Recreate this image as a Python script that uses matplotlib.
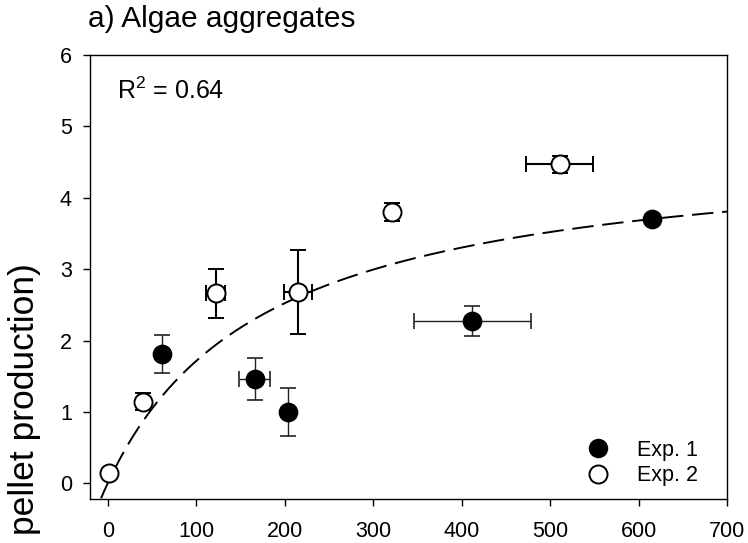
import numpy as np
import matplotlib
matplotlib.use("Agg")
import matplotlib.pyplot as plt
from matplotlib.lines import Line2D

plt.rcParams['font.family'] = ['Liberation Sans', 'DejaVu Sans']
plt.rcParams['mathtext.default'] = 'regular'

# Exp. 1 (filled circles)
exp1_x = [61, 166, 204, 412, 615]
exp1_y = [1.81, 1.46, 1.00, 2.28, 3.70]
exp1_xerr = [0, 18, 0, 66, 0]
exp1_yerr = [0.27, 0.30, 0.34, 0.21, 0]

# Exp. 2 (open circles)
exp2_x = [1, 40, 122, 215, 321, 511]
exp2_y = [0.14, 1.14, 2.66, 2.68, 3.80, 4.47]
exp2_xerr = [0, 0, 11, 16, 0, 38]
exp2_yerr = [0, 0.12, 0.34, 0.59, 0.13, 0.12]

# saturating fit y = a*x/(b+x), coefficients
fit_a = 4.78
fit_b = 179
r2_text = "R$^2$ = 0.64"

fig = plt.figure(figsize=(7.48, 5.43), dpi=100)
ax = fig.add_axes([90/748, 44/543, 637/748, 444/543])

xx = np.linspace(-20, 700, 400)
ax.plot(xx, fit_a*xx/(fit_b+xx), color='black', lw=1.4, dashes=(11, 4.5), zorder=1)

ax.errorbar(exp1_x, exp1_y, xerr=exp1_xerr, yerr=exp1_yerr, fmt='o', ms=13,
            mfc='black', mec='black', mew=1.2, ecolor='#222222', elinewidth=1,
            capsize=5.5, capthick=1, zorder=3)
ax.errorbar(exp2_x, exp2_y, xerr=exp2_xerr, yerr=exp2_yerr, fmt='o', ms=13,
            mfc='white', mec='black', mew=1.4, ecolor='black', elinewidth=1.5,
            capsize=5.5, capthick=1.5, zorder=3)

ax.set_xlim(-20, 700)
ax.set_ylim(-0.22, 6)
ax.set_xticks(range(0, 701, 100))
ax.set_yticks(range(0, 7))
ax.tick_params(direction='out', length=5, width=1, labelsize=15.5, top=False, right=False)
ax.tick_params(axis='x', pad=11)
ax.tick_params(axis='y', pad=8)
for s in ax.spines.values():
    s.set_linewidth(1)

ax.text(10, 5.39, r2_text, fontsize=18, va='baseline', ha='left')

handles = [Line2D([], [], ls='none', marker='o', ms=13, mfc='black', mec='black'),
           Line2D([], [], ls='none', marker='o', ms=13, mfc='white', mec='black', mew=1.4)]
ax.legend(handles, ['Exp. 1', 'Exp. 2'], loc='upper left', frameon=False,
          bbox_to_anchor=(570/748, (543-429)/543), bbox_transform=fig.transFigure,
          borderpad=0, fontsize=15.5, handlelength=1.6, handletextpad=1.0,
          labelspacing=0.2, numpoints=1)

fig.text(88/748, (543-27)/543, "a) Algae aggregates", fontsize=21.5, ha='left', va='baseline')
fig.text(25/748, (543-263)/543, "pellet production)", fontsize=25.5, rotation=90,
         ha='center', va='top')

fig.savefig("out.png", dpi=100)
